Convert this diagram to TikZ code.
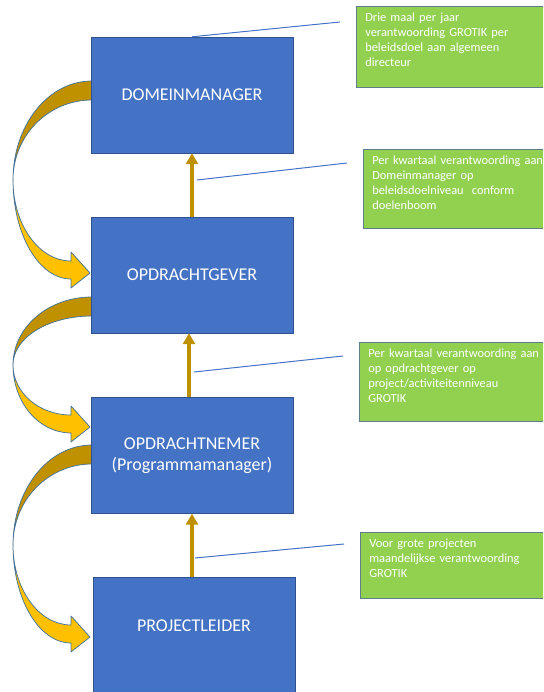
\documentclass[tikz,border=0pt]{standalone}
\usepackage{fontspec}
\setmainfont{Carlito}
\usetikzlibrary{arrows.meta,calc}

\definecolor{mgrblue}{HTML}{4472C4}
\definecolor{mgredge}{HTML}{2F528F}
\definecolor{notegreen}{HTML}{92D050}
\definecolor{noteedge}{HTML}{5E7E8E}
\definecolor{gold}{HTML}{BF9000}
\definecolor{amber}{HTML}{FFC000}
\definecolor{turnedge}{HTML}{41719C}

\begin{document}
\begin{tikzpicture}[x=1pt,y=-1pt,
    mgr/.style={draw=mgredge, fill=mgrblue, text=white, minimum width=202pt,
        minimum height=116pt, inner sep=0pt, align=center,
        font=\fontsize{18}{21}\selectfont},
    note/.style={draw=noteedge, line width=0.6pt, fill=notegreen, text=white,
        anchor=north west, text width=200pt, inner xsep=9pt, inner ysep=4pt,
        text height=11pt, align=left, font=\fontsize{12.4}{15}\selectfont},
    lift/.style={draw=gold, line width=4pt, -{Triangle[length=11pt,width=12pt]}},
    callout/.style={draw=mgrblue, line width=1pt},
    turn/.style={draw=turnedge, line width=0.7pt, line join=round}]

\useasboundingbox (0,0) rectangle (543,692);
\clip (0,0) rectangle (543,692);

% curved arrows on the left side
\foreach \ytop/\ymid/\ytip in {81/180/273, 297/365/427, 445/545/637}{
  \filldraw[turn, fill=gold] (92,\ytop)
      .. controls (47.9,\ytop) and (13,{\ymid-0.5523*(\ymid-\ytop)}) .. (13,\ymid)
      .. controls (13,{\ymid-0.5523*(\ymid-\ytop-19)}) and (47.9,\ytop+19) .. (92,\ytop+19)
      -- cycle;
  \filldraw[turn, fill=amber] (13,\ymid)
      .. controls (13,{\ymid+0.5523*(\ytip-12-\ymid)}) and (39,\ytip-12) .. (71,\ytip-12)
      -- (71,\ytip-21) -- (90,\ytip) -- (71,\ytip+15) -- (71,\ytip+6)
      .. controls (39,\ytip+6) and (13,{\ymid+0.5523*(\ytip+6-\ymid)}) .. (13,\ymid)
      -- cycle;
}

\node[mgr] (dm) at (192,95) {DOMEINMANAGER};
\node[mgr] (og) at (192,275) {OPDRACHTGEVER};
\node[mgr] (on) at (192,455.5) {OPDRACHTNEMER\\(Programmamanager)};
\node[mgr, text height=11pt, text depth=18pt] (pl) at (194,635) {PROJECTLEIDER};

\draw[lift] (og.north) -- (dm.south);
\draw[lift] ($(on.north)+(-3,0)$) -- ($(og.south)+(-3,0)$);
\draw[lift] ($(pl.north)+(-2,0)$) -- (on.south);

\node[note, text depth=62pt] (nA) at (356,6)
    {Drie maal per jaar\\verantwoording GROTIK per\\beleidsdoel aan algemeen\\directeur};
\node[note, text depth=60pt] (nB) at (363,149)
    {Per kwartaal verantwoording aan\\Domeinmanager op\\beleidsdoelniveau~ conform\\doelenboom};
\node[note, text depth=60pt] (nC) at (359,342)
    {Per kwartaal verantwoording aan\\op opdrachtgever op\\project/activiteitenniveau\\GROTIK};
\node[note, text depth=47pt] (nD) at (360,532)
    {Voor grote projecten\\maandelijkse verantwoording\\GROTIK};

\coordinate (kB) at (197,180);
\coordinate (kC) at (194,372);
\coordinate (kD) at (195,558);
\draw[callout] (dm.north) -- ($(nA.north west)+(-16,16)$);
\draw[callout] (kB) -- ($(nB.north west)+(-16,14)$);
\draw[callout] (kC) -- ($(nC.north west)+(-16,14)$);
\draw[callout] (kD) -- ($(nD.north west)+(-16,12)$);
\end{tikzpicture}
\end{document}
